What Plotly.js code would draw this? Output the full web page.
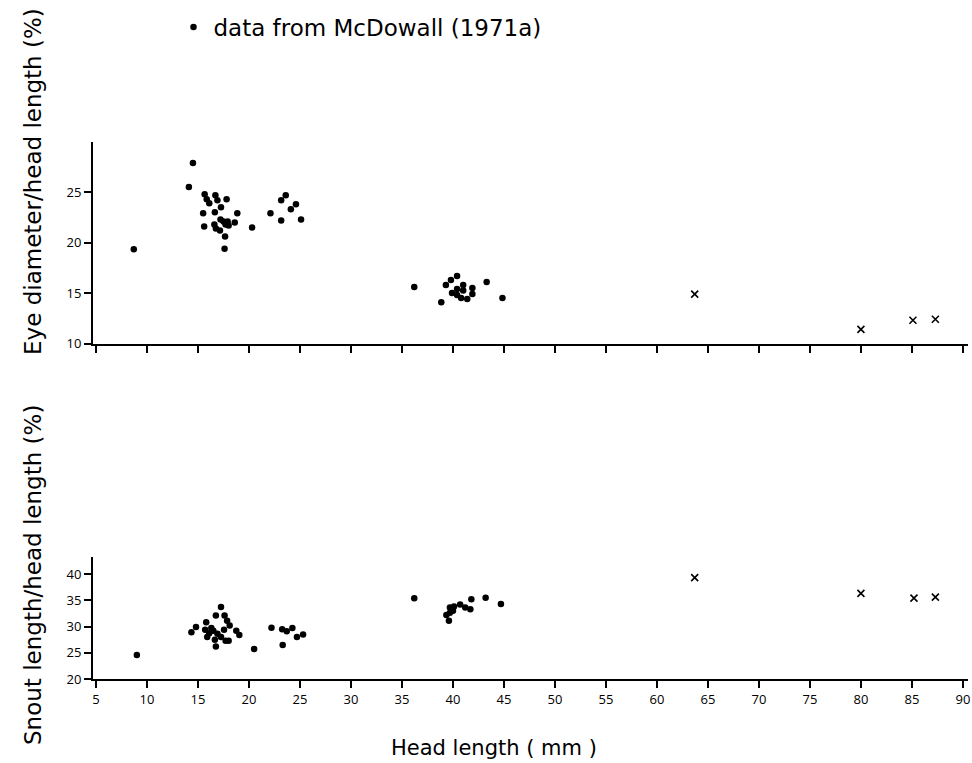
<!DOCTYPE html>
<html>
<head>
<meta charset="utf-8">
<script src="https://cdn.plot.ly/plotly-3.0.1.min.js"></script>
<style>html,body{margin:0;padding:0;background:#fff;}#chart{width:972px;height:763px;}</style>
</head>
<body>
<div id="chart"></div>
<script>
// Eye diameter / head length (%) — data from McDowall (1971a)
const eyeX = [8.7, 14.1, 14.5, 15.65, 16.7, 15.85, 16.1, 16.9, 17.8, 17.25, 15.5, 16.65, 18.85, 17.2, 17.5, 17.9, 17.7, 18.0, 18.6, 15.6, 16.6, 16.75, 17.15, 17.65, 17.6, 20.3, 22.1, 23.15, 23.6, 24.6, 24.1, 23.15, 25.1, 36.2, 38.85, 39.3, 39.8, 40.4, 41.0, 40.4, 41.0, 41.9, 39.9, 40.4, 40.8, 41.4, 41.9, 43.3, 44.85];
const eyeY = [19.35, 25.5, 27.9, 24.8, 24.7, 24.3, 23.9, 24.2, 24.3, 23.5, 22.9, 23.0, 22.9, 22.3, 22.1, 22.1, 21.8, 21.7, 22.0, 21.6, 21.8, 21.4, 21.2, 20.6, 19.4, 21.5, 22.9, 24.2, 24.7, 23.8, 23.3, 22.2, 22.3, 15.6, 14.1, 15.8, 16.3, 16.7, 15.8, 15.4, 15.25, 15.5, 15.0, 14.8, 14.5, 14.4, 14.9, 16.1, 14.5];
// Eye diameter / head length (%) — other specimens (x)
const eyeXcross = [63.7, 80.0, 85.1, 87.3];
const eyeYcross = [14.9, 11.4, 12.3, 12.4];

// Snout length / head length (%) — data from McDowall (1971a)
const snoutX = [9.0, 14.35, 14.8, 15.8, 15.7, 15.9, 16.1, 16.3, 16.5, 16.75, 17.25, 17.6, 17.85, 18.1, 17.55, 16.9, 17.25, 16.65, 17.7, 18.0, 16.75, 18.75, 19.05, 20.5, 22.2, 23.25, 23.7, 24.25, 23.3, 24.7, 25.3, 36.2, 39.6, 39.35, 39.7, 39.7, 40.1, 40.0, 40.7, 41.2, 41.7, 41.8, 43.2, 44.7];
const snoutY = [24.55, 28.9, 29.9, 30.8, 29.4, 28.0, 28.7, 29.7, 29.2, 32.1, 33.7, 32.1, 31.1, 30.2, 29.4, 28.6, 28.0, 27.5, 27.3, 27.3, 26.2, 29.2, 28.4, 25.7, 29.75, 29.5, 29.1, 29.7, 26.5, 28.0, 28.5, 35.4, 31.1, 32.2, 32.6, 33.6, 33.8, 33.0, 34.2, 33.6, 33.3, 35.2, 35.5, 34.3];
// Snout length / head length (%) — other specimens (x)
const snoutXcross = [63.7, 80.0, 85.2, 87.3];
const snoutYcross = [39.3, 36.3, 35.4, 35.6];

const xTicks = [5,10,15,20,25,30,35,40,45,50,55,60,65,70,75,80,85,90];
const eyeTicks = [10,15,20,25];
const snoutTicks = [20,25,30,35,40];

const legendLabel = 'data from McDowall (1971a)';
const eyeTitle = 'Eye diameter/head length (%)';
const snoutTitle = 'Snout length/head length (%)';
const xTitle = 'Head length ( mm )';

const FONT = 'Open Sans, DejaVu Sans, sans-serif';
const TFONT = 'DejaVu Sans, sans-serif';
const dot = {color:'#000', size:6.5, symbol:'circle'};
const cross = {color:'#000', size:7, symbol:'x-thin', line:{color:'#000', width:1.6}};

const traces = [
  {x: eyeX, y: eyeY, xaxis:'x2', yaxis:'y2', mode:'markers', type:'scatter', marker:dot, name:legendLabel, showlegend:true},
  {x: eyeXcross, y: eyeYcross, xaxis:'x2', yaxis:'y2', mode:'markers', type:'scatter', marker:cross, showlegend:false},
  {x: snoutX, y: snoutY, xaxis:'x', yaxis:'y', mode:'markers', type:'scatter', marker:dot, showlegend:false},
  {x: snoutXcross, y: snoutYcross, xaxis:'x', yaxis:'y', mode:'markers', type:'scatter', marker:cross, showlegend:false}
];

const axBase = {showline:true, linecolor:'#000', linewidth:2, ticks:'outside', ticklen:7, tickwidth:2, tickcolor:'#000',
  showgrid:false, zeroline:false, tickfont:{family:FONT, size:13, color:'#000'}, fixedrange:true};

const layout = {
  width:972, height:763,
  margin:{l:93, r:4, t:20, b:84},
  paper_bgcolor:'#fff', plot_bgcolor:'#fff',
  font:{family:FONT, color:'#000'},
  showlegend:true,
  legend:{x:0.092, y:1.022, xanchor:'left', yanchor:'top', font:{family:TFONT, size:23, color:'#000'}, bgcolor:'rgba(0,0,0,0)', itemwidth:30},
  xaxis: Object.assign({}, axBase, {anchor:'y', domain:[0,1], range:[4.7,90.5], tickvals:xTicks, ticktext:xTicks.map(String)}),
  yaxis: Object.assign({}, axBase, {anchor:'x', domain:[0,0.1856], range:[20,43.3], tickvals:snoutTicks, ticktext:snoutTicks.map(String)}),
  xaxis2: Object.assign({}, axBase, {anchor:'y2', domain:[0,1], range:[4.7,90.5], tickvals:xTicks, showticklabels:false}),
  yaxis2: Object.assign({}, axBase, {anchor:'x2', domain:[0.5091,0.8153], range:[10,30], tickvals:eyeTicks, ticktext:eyeTicks.map(String)}),
  annotations:[
    {text:eyeTitle, xref:'paper', yref:'paper', x:-0.0686, y:0.7557, textangle:-90, showarrow:false, xanchor:'center', yanchor:'middle', font:{family:TFONT, size:23, color:'#000'}},
    {text:snoutTitle, xref:'paper', yref:'paper', x:-0.0686, y:0.1578, textangle:-90, showarrow:false, xanchor:'center', yanchor:'middle', font:{family:TFONT, size:23, color:'#000'}},
    {text:xTitle, xref:'paper', yref:'paper', x:0.4583, y:-0.1047, showarrow:false, xanchor:'center', yanchor:'middle', font:{family:TFONT, size:21, color:'#000'}}
  ]
};

Plotly.newPlot('chart', traces, layout, {staticPlot:true, displayModeBar:false});
</script>
</body>
</html>
